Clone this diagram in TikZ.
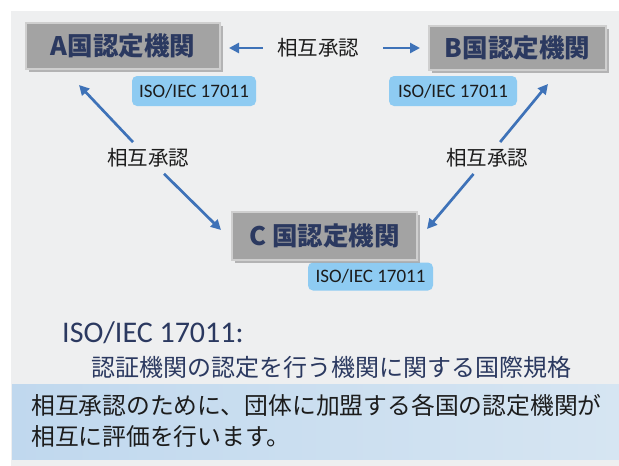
\documentclass[tikz,border=0pt]{standalone}
\usepackage{fontspec}
\usetikzlibrary{arrows.meta,shadows}
\newfontfamily\jpfont{Noto Sans CJK JP}
\newfontfamily\calfont{Carlito}
\definecolor{panel}{HTML}{EEEFF0}
\definecolor{boxfill}{HTML}{A3A3A3}
\definecolor{boxedge}{HTML}{CFCFCF}
\definecolor{navy}{HTML}{2B3960}
\definecolor{arrowblue}{HTML}{3E72B8}
\definecolor{labelblue}{HTML}{8ECBF2}
\definecolor{bandL}{HTML}{C0D8EE}
\definecolor{bandR}{HTML}{D6E5F2}
\definecolor{inkcol}{HTML}{1C1C1C}
\tikzset{
  orgbox/.style={draw=boxedge, fill=boxfill, line width=1.8pt, inner sep=0pt,
    drop shadow={shadow xshift=2.5pt, shadow yshift=-2.5pt, fill=black!45, opacity=0.6},
    font=\jpfont\bfseries\fontsize{25.5}{28}\selectfont, text=navy},
  isolabel/.style={fill=labelblue, rounded corners=5pt, inner sep=0pt,
    font=\calfont\fontsize{19}{21}\selectfont, text=inkcol},
  mutual/.style={font=\jpfont\fontsize{20.5}{22}\selectfont, text=inkcol, inner sep=4pt},
  arr/.style={draw=arrowblue, line width=2.7pt, -{Triangle[length=10pt,width=10pt]}},
}
\begin{document}
\begin{tikzpicture}[x=1pt,y=-1pt]
\useasboundingbox (0,0) rectangle (619,466);
\fill[white] (0,0) rectangle (619,466);
\fill[panel] (11,11) rectangle (619,466);
% bottom band
\shade[left color=bandL, right color=bandR] (12,384) rectangle (619,459);

% ISO labels
\node[isolabel, minimum width=124pt, minimum height=30pt] (isoA) at (194,91) {ISO/IEC 17011};
\node[isolabel, minimum width=128pt, minimum height=30pt] (isoB) at (453,91) {ISO/IEC 17011};
\node[isolabel, minimum width=125pt, minimum height=28pt] (isoC) at (370.5,276.5) {ISO/IEC 17011};

% organisation boxes
\node[orgbox, minimum width=194pt, minimum height=46pt] (A) at (123,46) {A国認定機関};
\node[orgbox, minimum width=177pt, minimum height=44pt] (B) at (517.5,48) {B国認定機関};
\node[orgbox, minimum width=185pt, minimum height=48pt] (C) at (324.5,236) {C 国認定機関};

% mutual recognition labels
\node[mutual] (m0) at (318,48) {相互承認};
\node[mutual] (m1) at (148,158) {相互承認};
\node[mutual] (m2) at (487,158) {相互承認};

% arrow tips
\coordinate (tA0) at (229,48);
\coordinate (tB0) at (420,48);
\coordinate (tA1) at (79,85);
\coordinate (tC1) at (221,230);
\coordinate (tB2) at (548,84);
\coordinate (tC2) at (427,229);

\draw[arr, shorten <=10pt] (m0) -- (tA0);
\draw[arr, shorten <=20pt] (m0) -- (tB0);
\draw[arr, shorten <=3pt] (m1) -- (tA1);
\draw[arr, shorten <=3pt] (m1) -- (tC1);
\draw[arr, shorten <=3pt] (m2) -- (tB2);
\draw[arr, shorten <=3pt] (m2) -- (tC2);

% standard description
\node[anchor=base west, inner sep=0pt, font=\calfont\fontsize{30}{32}\selectfont, text=navy] (std) at (62,342) {ISO/IEC 17011:};
\node[anchor=base west, inner sep=0pt, font=\jpfont\fontsize{24}{26}\selectfont, text=navy] (stddesc) at (91,376) {認証機関の認定を行う機関に関する国際規格};

% bottom note
\node[anchor=west, inner sep=0pt, font=\jpfont\fontsize{23.8}{26}\selectfont, text=inkcol] (note1) at (31,405) {相互承認のために、団体に加盟する各国の認定機関が};
\node[anchor=west, inner sep=0pt, font=\jpfont\fontsize{23.8}{26}\selectfont, text=inkcol] (note2) at (31,436) {相互に評価を行います。};
\end{tikzpicture}
\end{document}
